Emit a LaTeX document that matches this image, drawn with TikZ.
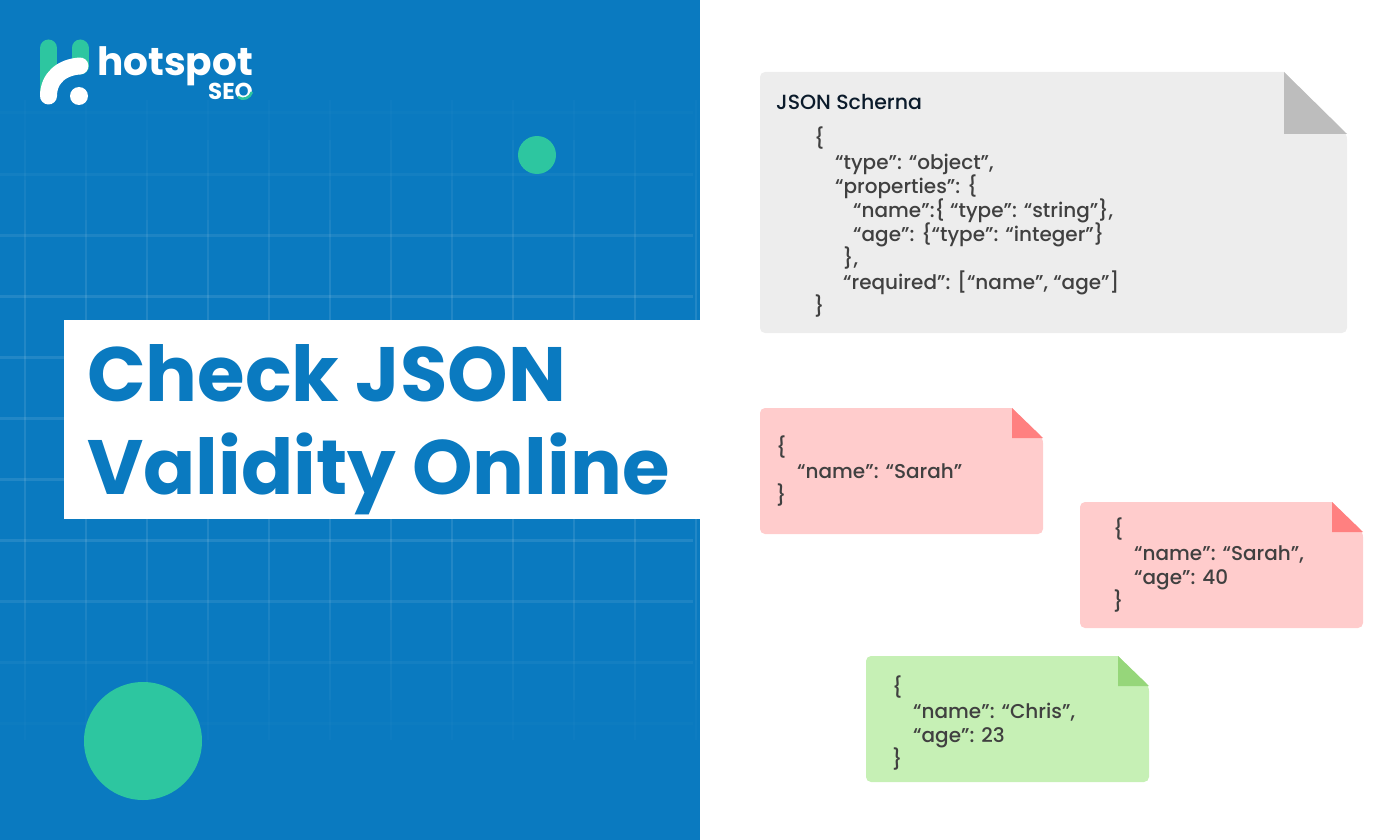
\documentclass[tikz,border=0pt]{standalone}
\usepackage{fontspec}
\setmainfont{Poppins}
\newfontfamily\bodyfont{Poppins Medium}
\usetikzlibrary{positioning}
\AtBeginDocument{\lineskiplimit=-50pt}
\definecolor{panelblue}{HTML}{0A7AC0}
\definecolor{mintgreen}{HTML}{2DC6A0}
\definecolor{inkblue}{HTML}{0B1B2B}
\tikzset{
    panel color/.style={panelblue},
    gridline/.style={white,line width=3pt},
    accent dot/.style={mintgreen},
    logo bar/.style={mintgreen,line width=17pt,line cap=round},
    logo arc/.style={white,line width=17pt,line cap=round},
    note corners/.style={rounded corners=5pt},
    gray note/.style={fill=black!7,note corners},
    gray fold/.style={fill=black!26},
    red note/.style={fill={rgb,255:red,255;green,204;blue,204},note corners},
    red fold/.style={fill={rgb,255:red,255;green,128;blue,128}},
    green note/.style={fill={rgb,255:red,198;green,240;blue,181},note corners},
    green fold/.style={fill={rgb,255:red,150;green,214;blue,122}},
    note text/.style={anchor=north west,inner sep=0pt,align=left,text=black!75,
        font=\bodyfont\fontsize{20}{24}\selectfont},
    title text/.style={anchor=north west,inner sep=0pt,align=left,text=panelblue,
        font=\fontsize{77}{93}\selectfont\bfseries},
}
\begin{document}
\begin{tikzpicture}[x=1pt,y=-1pt]
    \useasboundingbox (0,0) rectangle (1400,840);
    \fill[panel color] (0,0) rectangle (700,840);
    % grid behind the title
    \foreach \gx in {25,86,...,696}
        \foreach \gy/\gop in {100/.02,140/.04,180/.06,220/.08,260/.1,300/.1,340/.1,380/.1,420/.1,460/.1,500/.1,540/.1,580/.08,620/.06,660/.04,700/.02}
            \fill[white,opacity=\gop] (\gx-1.25,\gy) rectangle (\gx+1.25,\gy+40);
    \foreach \gy/\gop in {113/.015,174/.04,235/.08,296/.1,357/.1,418/.1,479/.1,540/.1,601/.08,662/.04,723/.015}
        \draw[gridline,opacity=\gop] (0,\gy) -- (693,\gy);
    \fill[accent dot] (537,155) circle [radius=19];
    \fill[accent dot] (143,741) circle [radius=59];
    % logo
    \draw[logo bar] (48.5,48) -- (48.5,92);
    \draw[logo bar] (80,48) -- (80,66);
    \draw[logo arc] (48.5,96) .. controls (48.5,78) and (62,67) .. (80,66);
    \fill[white] (79,96) circle [radius=9];
    \node[anchor=base west,inner sep=0pt,white,font=\bfseries\fontsize{39}{39}\selectfont] (logoName) at (97,76) {hotspot};
    \node[anchor=base east,inner sep=0pt,white,font=\bfseries\fontsize{23}{23}\selectfont] (logoSeo) at (253,100) {SEO};
    \draw[mintgreen,line width=2.5pt] (238,97) .. controls (243,101) and (250,98) .. (252,92);
    % title
    \fill[white] (64,320) rectangle (700,519);
    \node[title text] (titleText) at (87,344) {Check JSON\\Validity Online};
    % schema sheet
    \fill[gray note] (1284,72) -- (760,72) -- (760,333) -- (1347,333) -- (1347,134) [sharp corners] -- (1284,72) -- cycle;
    \fill[gray fold] (1284,72) -- (1284,134) -- (1347,134) -- cycle;
    \node[note text,text=inkblue,font=\bodyfont\fontsize{20.5}{24}\selectfont] (schemaTitle) at (776,94) {JSON Scherna};
    \node[note text] (schemaText) at (814,127) {\{\\
        \hspace*{21pt}“type”: “object”,\\
        \hspace*{21pt}“properties”: \{\\
        \hspace*{39pt}“name”:\{ “type”: “string”\},\\
        \hspace*{39pt}“age”: \{“type”: “integer”\}\\
        \hspace*{29pt}\},\\
        \hspace*{29pt}“required”: [“name”, “age”]\\
        \}};
    % first red sheet
    \fill[red note] (1012,408) -- (760,408) -- (760,534) -- (1043,534) -- (1043,438) [sharp corners] -- (1012,408) -- cycle;
    \fill[red fold] (1012,408) -- (1012,438) -- (1043,438) -- cycle;
    \node[note text] (sarahText) at (776,436) {\{\\
        \hspace*{21pt}“name”: “Sarah”\\
        \}};
    % second red sheet
    \fill[red note] (1332,502) -- (1080,502) -- (1080,628) -- (1363,628) -- (1363,532) [sharp corners] -- (1332,502) -- cycle;
    \fill[red fold] (1332,502) -- (1332,532) -- (1363,532) -- cycle;
    \node[note text] (sarahAgeText) at (1113,518) {\{\\
        \hspace*{21pt}“name”: “Sarah”,\\
        \hspace*{21pt}“age”: 40\\
        \}};
    % green sheet
    \fill[green note] (1118,656) -- (866,656) -- (866,782) -- (1149,782) -- (1149,686) [sharp corners] -- (1118,656) -- cycle;
    \fill[green fold] (1118,656) -- (1118,686) -- (1149,686) -- cycle;
    \node[note text] (chrisText) at (892,676) {\{\\
        \hspace*{21pt}“name”: “Chris”,\\
        \hspace*{21pt}“age”: 23\\
        \}};
\end{tikzpicture}
\end{document}
